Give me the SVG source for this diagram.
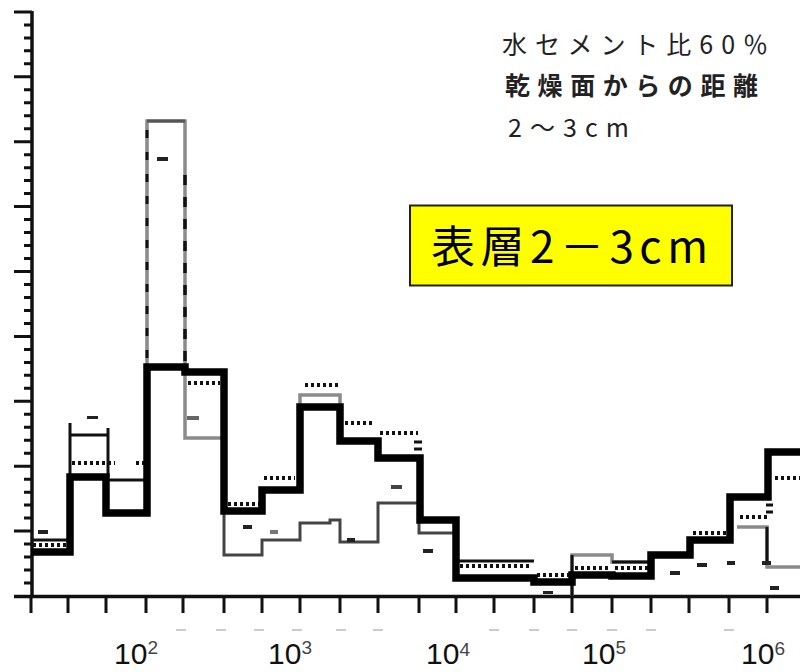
<svg xmlns="http://www.w3.org/2000/svg" width="800" height="672" viewBox="0 0 800 672">
<defs>
<linearGradient id="topg" x1="0" y1="0" x2="1" y2="0">
<stop offset="0" stop-color="#b8b8b8"/>
<stop offset="0.3" stop-color="#444"/>
<stop offset="0.5" stop-color="#777"/>
<stop offset="0.75" stop-color="#222"/>
<stop offset="1" stop-color="#000"/>
</linearGradient>
<style>
.ax{stroke:#111;fill:none;stroke-width:3.5}
.tk{stroke:#111;fill:none;stroke-width:3}
.thick{stroke:#000;fill:none;stroke-width:7.5;stroke-linejoin:miter}
.thin{stroke:#111;fill:none;stroke-width:3}
.gray{stroke:#8a8a8a;fill:none;stroke-width:3.5}
.dgray{stroke:#444;fill:none;stroke-width:3}
.dot{stroke:#111;fill:none;stroke-width:4;stroke-dasharray:3 3}
.mk{fill:#222}
.lbl{font-family:"Liberation Sans",Arial,sans-serif;font-size:30px;fill:#111}
.sup{font-size:19px;fill:#444}
.jp{font-family:"Noto Sans CJK JP","Noto Sans CJK SC",sans-serif;fill:#222}
.big{font-family:"Noto Sans CJK JP","Noto Sans CJK SC",sans-serif;font-size:44px;fill:#000}
</style>
</defs>
<rect width="800" height="672" fill="#fff"/>

<g id="axes">
<line x1="32" y1="13" x2="800" y2="13" stroke="url(#topg)" stroke-width="4"/>
<line class="ax" x1="32" y1="11" x2="32" y2="597"/>
<line class="ax" x1="14" y1="596.5" x2="800" y2="596.5"/>
<path class="tk" d="M24,583H32M24,570H32M24,557.1H32M24,544.1H32M14,531.1H32M24,518.1H32M24,505.1H32M24,492.2H32M24,479.2H32M14,466.2H32M24,453.2H32M24,440.2H32M24,427.3H32M24,414.3H32M14,401.3H32M24,388.3H32M24,375.3H32M24,362.4H32M24,349.4H32M14,336.4H32M24,323.4H32M24,310.4H32M24,297.5H32M24,284.5H32M14,271.5H32M24,258.5H32M24,245.5H32M24,232.6H32M24,219.6H32M14,206.6H32M24,193.6H32M24,180.6H32M24,167.7H32M24,154.7H32M14,141.7H32M24,128.7H32M24,115.7H32M24,102.8H32M24,89.8H32M14,76.8H32M24,63.8H32M24,50.8H32M24,37.9H32M24,24.9H32M14,12H32"/>
<path class="tk" d="M31,596V613M68,596V613M106,596V613M146,596V613M183,596V613M224,596V613M262,596V613M300,596V613M340,596V613M378,596V613M419,596V613M456,596V613M494,596V613M534,596V613M572,596V613M612,596V613M651,596V613M689,596V613M729,596V613M767,596V613"/>
<path stroke="#ccc" stroke-width="2" fill="none" d="M176,630H186M216,630H226M254,630H264M292,630H302M336,630H346M373,630H383M489,630H499M529,630H539M567,630H577M607,630H617M646,630H656M724,630H734"/>
</g>

<g id="series-gray">
<path class="gray" d="M147,367V121H185V367"/>
<path stroke="#111" stroke-width="3" fill="none" stroke-dasharray="8 14" d="M147,130V367"/>
<path stroke="#111" stroke-width="3.5" fill="none" stroke-dasharray="10 12" d="M185,175V367"/>
<path stroke="#555" stroke-width="3" fill="none" d="M147,121H185"/>
<path class="gray" d="M185,372V438H224"/>
<path class="dgray" d="M224,511V555H262V540H300V523H330V520H340V542H378V503H419V533H456"/>
<path class="gray" d="M572,596V555H612V562H651"/>
<path class="gray" d="M737,527H767V567H800"/>
<path class="gray" stroke-width="3" d="M300,405V395H340V405"/>
</g>

<g id="series-thin">
<path class="thin" d="M31,540H70V423M70,435H108M108,428V477M108,480H147"/>
<path class="thin" d="M456,561H534"/>
<path class="thin" d="M612,562H651"/>
<path class="thin" d="M572,555V596"/>
<path class="thin" d="M767,527V563"/>
</g>

<g id="series-dotted">
<path class="dot" d="M33,545H68M72,463H115M136,463H146M188,383H220M228,504H260M264,478H295M305,385H338M345,423H375M380,433H418M460,566H532M537,575H570M575,568H610M615,568H650M693,533H727M740,517H767M775,478H800"/>
<path class="thin" stroke-width="2.5" d="M414,442H422M414,449H422M766,505H773M766,512H773"/>
</g>

<g id="series-thick">
<path class="thick" d="M31,552H70V477H106V513H147V367H185V372H224V511H262V490H300V407H340V441H378V458H420V520H456V578H534V582H572V575H612V576H651V555H690V540H730V497H768V452H800"/>
</g>

<g id="marks">
<rect class="mk" x="38" y="530" width="10" height="4"/>
<rect class="mk" x="87" y="416" width="11" height="3"/>
<rect class="mk" x="157" y="157" width="11" height="4"/>
<rect x="187" y="416" width="12" height="4" fill="#666"/>
<rect class="mk" x="243" y="525" width="9" height="4"/>
<rect x="270" y="530" width="8" height="4" fill="#777"/>
<rect class="mk" x="347" y="538" width="8" height="4"/>
<rect x="391" y="485" width="11" height="4" fill="#444"/>
<rect class="mk" x="423" y="549" width="10" height="4"/>
<rect class="mk" x="543" y="591" width="10" height="3"/>
<rect class="mk" x="670" y="571" width="10" height="4"/>
<rect class="mk" x="697" y="563" width="10" height="4"/>
<rect class="mk" x="727" y="561" width="8" height="4"/>
<rect class="mk" x="762" y="561" width="9" height="4"/>
<rect class="mk" x="770" y="586" width="9" height="4"/>
</g>

<g id="axis-labels">
<text class="lbl" x="114" y="664">10<tspan class="sup" dy="-10">2</tspan></text>
<text class="lbl" x="268" y="664">10<tspan class="sup" dy="-10">3</tspan></text>
<text class="lbl" x="426" y="664">10<tspan class="sup" dy="-8">4</tspan></text>
<text class="lbl" x="582" y="664">10<tspan class="sup" dy="-10">5</tspan></text>
<text class="lbl" x="741" y="664">10<tspan class="sup" dy="-9">6</tspan></text>
</g>

<g id="legend-text">
<text class="jp" x="502" y="54" font-size="25" textLength="266" lengthAdjust="spacing">水セメント比60％</text>
<text class="jp" x="505" y="95" font-size="25" font-weight="bold" textLength="253" lengthAdjust="spacing">乾燥面からの距離</text>
<text class="jp" x="508" y="137" font-size="25" textLength="121" lengthAdjust="spacing">2～3cm</text>
</g>

<g id="highlight-box">
<rect x="410" y="205.5" width="322" height="80" fill="#ffff00" stroke="#222" stroke-width="2"/>
<text class="big" x="431" y="263" textLength="277" lengthAdjust="spacing">表層2－3cm</text>
</g>
</svg>
